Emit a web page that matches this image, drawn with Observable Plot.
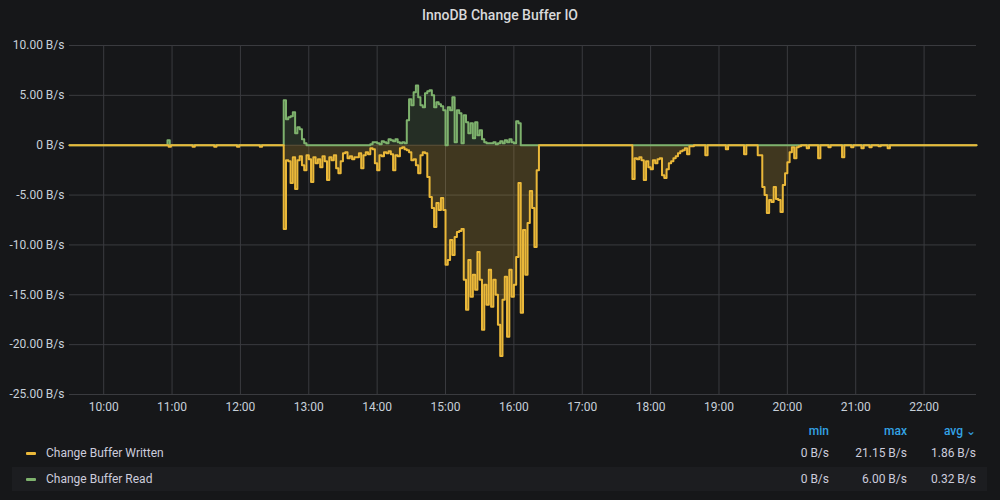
<!DOCTYPE html>
<html>
<head>
<meta charset="utf-8">
<script src="https://cdn.jsdelivr.net/npm/d3@7"></script>
<script src="https://cdn.jsdelivr.net/npm/@observablehq/plot@0.6"></script>
<style>
  html, body { margin: 0; padding: 0; background: #161719; }
  body { width: 1000px; height: 500px; position: relative; overflow: hidden; font-family: Roboto, "Noto Sans", sans-serif; color: #ccccdc; }
  #title { position: absolute; left: 0; top: 0; width: 1000px; height: 30px; line-height: 30px; text-align: center; font-size: 14px; font-weight: 500; color: #d8d9da; }
  #chart { position: absolute; left: 0; top: 30px; }
  #chart svg { display: block; }
  .lg { position: absolute; font-size: 12px; line-height: 16px; white-space: nowrap; }
  .hdr { color: #33a2e5; font-weight: 500; text-align: right; }
  .val { text-align: right; color: #ccccdc; }
  .band { position: absolute; left: 12px; top: 467px; width: 975px; height: 24px; background: #1c1d20; }
  .dash { position: absolute; width: 10px; height: 3px; border-radius: 1px; }
</style>
</head>
<body>
<div id="title">InnoDB Change Buffer IO</div>
<div id="chart"></div>
<div id="legend"></div>
<script>
// ---- data (values in B/s) ----
const hourTicks = [10, 11, 12, 13, 14, 15, 16, 17, 18, 19, 20, 21, 22];
const yTicks = [10, 5, 0, -5, -10, -15, -20, -25];
const rangeStart = "09:30";
const rangeEnd = "22:46";
const stepMinutes = 2;

const burst1Start = "12:36";
const burst1Written = [0, 8.4, 1.5, 1.6, 3.8, 1.2, 4.4, 1.5, 1.1, 2.0, 2.5, 1.0, 1.4, 3.7, 1.2, 1.8, 1.4, 2.2, 1.1, 1.6,
  3.5, 1.2, 1.5, 1.0, 2.3, 2.8, 1.6, 0.8, 0.7, 1.3, 1.1, 1.4, 1.2, 1.2, 0.8, 2.3, 1.0, 0.7, 0.9, 0.3,
  0.4, 1.8, 2.5, 1.0, 1.1, 0.7, 0.8, 0.6, 0.9, 2.5, 1.0, 1.1, 0.3, 0.2, 0.4, 0.5, 0.7, 1.5, 1.4, 2.0,
  2.8, 1.0, 0.7, 0.8, 3.2, 5.2, 6.3, 8.2, 5.8, 6.5, 5.3, 6.5, 12.0, 11.5, 9.5, 11.0, 9.2, 8.7, 8.6, 8.4,
  13.5, 16.5, 11.5, 15.2, 13.0, 14.5, 10.7, 13.5, 18.5, 14.0, 16.0, 12.5, 16.2, 13.5, 15.0, 18.0, 21.15, 15.5, 13.2, 19.2,
  12.5, 15.2, 14.0, 11.2, 3.8, 16.8, 8.5, 13.0, 7.8, 4.6, 6.3, 10.2, 2.5, 0];
const burst1Read = [0, 4.5, 2.6, 2.8, 2.9, 3.3, 1.2, 1.8, 1.6, 0.6, 0.2, 0, 0, 0, 0, 0, 0, 0, 0, 0,
  0, 0, 0, 0, 0, 0, 0, 0, 0, 0, 0, 0, 0, 0, 0, 0, 0, 0, 0, 0.1,
  0.3, 0.3, 0.2, 0.1, 0.4, 0.3, 0.2, 0.6, 0.5, 0.4, 0.6, 0.3, 0.2, 0.3, 0.2, 2.5, 4.6, 4.0, 5.3, 6.0,
  4.8, 4.0, 3.8, 5.2, 5.4, 5.5, 5.0, 3.8, 4.3, 4.1, 3.9, 3.5, 0, 3.8, 3.5, 4.8, 0.3, 3.5, 3.2, 0.2,
  3.0, 2.3, 1.2, 2.2, 0.7, 2.3, 1.0, 1.5, 0.6, 0.3, 0.2, 0.2, 0.2, 0.3, 0.1, 0.2, 0.4, 0.2, 0.5, 0.3,
  0.6, 0.3, 0.2, 2.4, 2.2, 0, 0, 0, 0, 0, 0, 0, 0, 0];

const burst2Start = "17:44";
const burst2Written = [3.4, 1.3, 1.4, 1.2, 1.5, 3.5, 1.6, 2.2, 2.4, 1.5, 1.8, 1.4, 1.3, 3.0, 3.3, 2.4, 1.8, 1.6, 1.3, 1.1,
  0.8, 0.6, 0.5, 0.3, 0.9, 0.1, 0.1, 0];

const burst3Start = "19:34";
const burst3Written = [1.0, 1.0, 4.2, 5.0, 6.8, 5.5, 5.7, 4.2, 5.4, 5.5, 6.7, 4.0, 2.8, 1.7, 0.7, 0.2, 1.3, 0.2, 0.1, 0];

const blipWrittenTimes = ["10:57", "11:18", "11:37", "11:57", "12:17", "18:48", "19:06", "19:22", "20:17", "20:27", "20:36", "20:48", "20:56", "21:05", "21:12", "21:20", "21:28"];
const blipWrittenValues = [0.15, 0.15, 0.15, 0.15, 0.15, 1.0, 0.4, 0.9, 0.3, 1.3, 0.2, 1.2, 0.2, 0.3, 0.2, 0.1, 0.3];
const blipReadTimes = ["10:56"];
const blipReadValues = [0.5];

const legendNames = ["Change Buffer Written", "Change Buffer Read"];
const legendColors = ["#EAB839", "#7EB26D"];
const legendMin = ["0 B/s", "0 B/s"];
const legendMax = ["21.15 B/s", "6.00 B/s"];
const legendAvg = ["1.86 B/s", "0.32 B/s"];

// ---- build series on a one-minute grid ----
const toMin = s => { const [h, m] = s.split(":").map(Number); return h * 60 + m; };
const m0 = toMin(rangeStart), m1 = toMin(rangeEnd);
const series = [];
for (let m = m0; m <= m1; m++) series.push({h: m / 60, written: 0, read: 0});
function put(startMin, values, key) {
  values.forEach((v, i) => {
    for (let k = 0; k < stepMinutes; k++) {
      const idx = startMin + i * stepMinutes + k - m0;
      if (idx >= 0 && idx < series.length) series[idx][key] = v;
    }
  });
}
put(toMin(burst1Start), burst1Written, "written");
put(toMin(burst1Start), burst1Read, "read");
put(toMin(burst2Start), burst2Written, "written");
put(toMin(burst3Start), burst3Written, "written");
blipWrittenTimes.forEach((t, i) => put(toMin(t), [blipWrittenValues[i]], "written"));
blipReadTimes.forEach((t, i) => put(toMin(t), [blipReadValues[i]], "read"));

const fmtY = v => v === 0 ? "0 B/s" : `${v.toFixed(2)} B/s`;
const gridColor = "#3a3b3f";

const chart = Plot.plot({
  width: 1000,
  height: 390,
  marginTop: 15,
  marginBottom: 26,
  marginLeft: 69,
  marginRight: 24,
  style: {background: "transparent", color: "#c7d0d9", fontFamily: "Roboto, 'Noto Sans', sans-serif", fontSize: "12px"},
  x: {domain: [m0 / 60, m1 / 60], ticks: hourTicks, tickFormat: h => `${h}:00`, tickSize: 0, tickPadding: 8, label: null},
  y: {domain: [-25, 10], ticks: yTicks, tickFormat: fmtY, tickSize: 0, tickPadding: 5, label: null},
  marks: [
    Plot.ruleY(yTicks, {stroke: gridColor, strokeWidth: 1}),
    Plot.ruleX(hourTicks, {stroke: gridColor, strokeWidth: 1}),
    Plot.areaY(series, {x: "h", y1: 0, y2: "read", fill: "#7EB26D", fillOpacity: 0.15, curve: "step-after"}),
    Plot.areaY(series, {x: "h", y1: 0, y2: d => -d.written, fill: "#EAB839", fillOpacity: 0.2, curve: "step-after"}),
    Plot.lineY(series, {x: "h", y: "read", stroke: "#7EB26D", strokeWidth: 2, curve: "step-after"}),
    Plot.lineY(series, {x: "h", y: d => -d.written, stroke: "#EAB839", strokeWidth: 2, curve: "step-after"})
  ]
});
document.getElementById("chart").appendChild(chart);

// ---- legend table ----
const lg = document.getElementById("legend");
function add(html, cls, style) {
  const d = document.createElement("div");
  d.className = cls;
  d.innerHTML = html;
  Object.assign(d.style, style);
  lg.appendChild(d);
  return d;
}
add("", "band", {});
const colRight = [829, 907, 976];
const hdrs = ["min", "max", "avg &#x2304;"];
hdrs.forEach((h, i) => add(h, "lg hdr", {right: (1000 - colRight[i]) + "px", top: "423px"}));
const rowY = [453, 479];
legendNames.forEach((n, r) => {
  add("", "dash", {left: "26px", top: (rowY[r] - 1) + "px", background: legendColors[r]});
  add(n, "lg", {left: "46px", top: (rowY[r] - 8) + "px", color: "#ccccdc"});
  [legendMin[r], legendMax[r], legendAvg[r]].forEach((v, i) =>
    add(v, "lg val", {right: (1000 - colRight[i]) + "px", top: (rowY[r] - 8) + "px"}));
});
</script>
</body>
</html>
